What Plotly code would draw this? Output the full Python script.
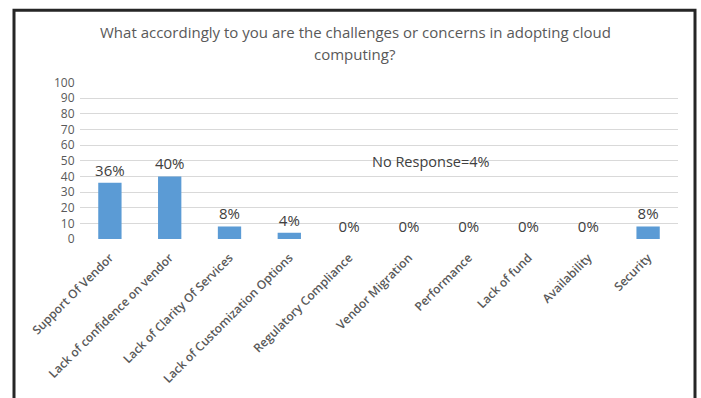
import plotly.graph_objects as go

categories = ["Support Of Vendor", "Lack of confidence on vendor", "Lack of Clarity Of Services",
              "Lack of Customization Options", "Regulatory Compliance", "Vendor Migration",
              "Performance", "Lack of fund", "Availability", "Security"]
values = [36, 40, 8, 4, 0, 0, 0, 0, 0, 8]
labels = [f"{v}%" for v in values]
y_ticks = list(range(0, 101, 10))
title_lines = ["What accordingly to you are the challenges or concerns in adopting cloud", "computing?"]
note_text = "No Response=4%"

W, H = 701, 398
L, R, T, B = 80, 23, 82, 156
pw, ph = W - L - R, H - T - B
ymax = 100.4

fig = go.Figure(go.Bar(
    x=categories, y=values, text=labels, textposition="outside", constraintext="none",
    textfont=dict(family="Open Sans", size=15, color="#404040"),
    marker=dict(color="#5b9bd5", line=dict(width=0)),
    cliponaxis=False, width=0.39,
))

def px_to_paper_x(px):
    return (px - L) / pw

def px_to_paper_y(py):
    return (H - B - py) / ph

annotations = [dict(text=note_text, x=5.37, y=49.5, xref="x", yref="y", showarrow=False,
                    font=dict(family="Open Sans", size=14.5, color="#404040"))]
for line, py in zip(title_lines, [31, 53]):
    annotations.append(dict(text=line, x=px_to_paper_x(355), y=px_to_paper_y(py), xref="paper",
                            yref="paper", xanchor="center", yanchor="middle", showarrow=False,
                            font=dict(family="Open Sans", size=15, color="#595959")))

fig.update_layout(
    width=W, height=H, margin=dict(l=L, r=R, t=T, b=B),
    paper_bgcolor="white", plot_bgcolor="white", showlegend=False,
    xaxis=dict(tickangle=-45, tickfont=dict(family="Open Sans", size=12, color="#595959", weight=600),
               showgrid=False, zeroline=False, showline=False, ticks="outside", ticklen=6,
               tickcolor="rgba(0,0,0,0)"),
    yaxis=dict(range=[0, ymax], tickvals=y_ticks, showgrid=True, gridcolor="#d9d9d9", gridwidth=1,
               zeroline=False, showline=False, ticks="outside", ticklen=2, tickcolor="rgba(0,0,0,0)",
               tickfont=dict(family="Open Sans", size=12, color="#595959")),
    annotations=annotations,
    shapes=[dict(type="rect", xref="paper", yref="paper",
                 x0=px_to_paper_x(14), x1=px_to_paper_x(695),
                 y0=px_to_paper_y(420), y1=px_to_paper_y(9),
                 line=dict(color="#262626", width=3), layer="above")],
)

fig.write_html("out.html")
